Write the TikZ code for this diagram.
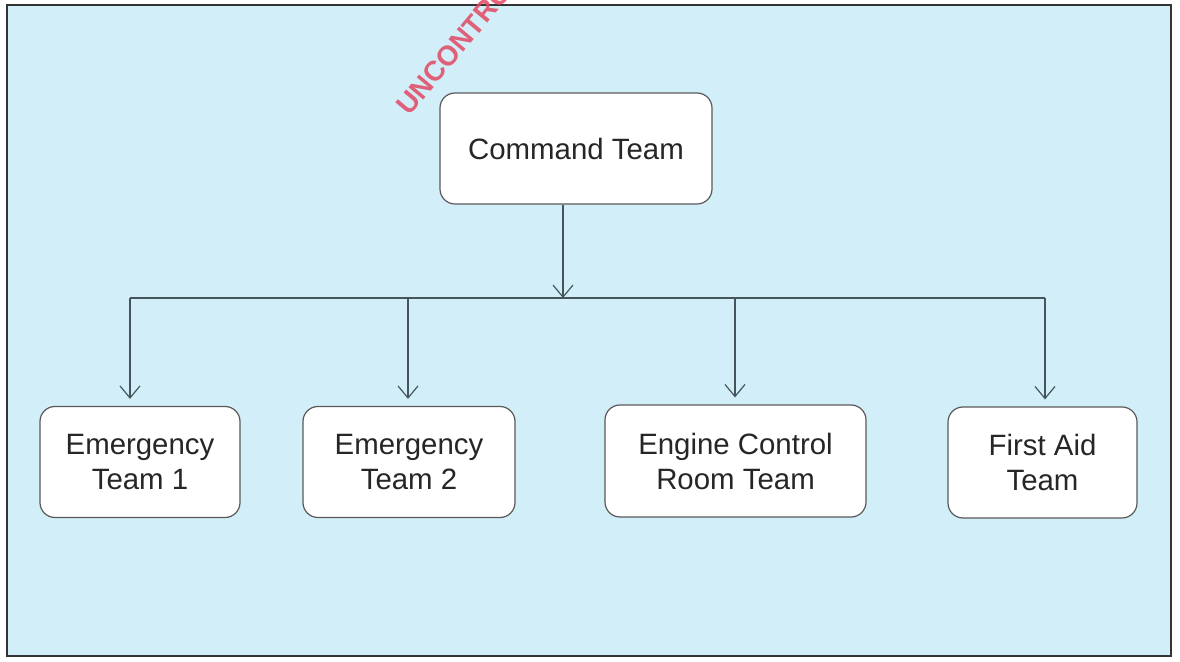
\documentclass[tikz,border=0pt]{standalone}
\usepackage{fontspec}
\setmainfont{Liberation Sans}
\usetikzlibrary{arrows.meta}
\definecolor{panelblue}{RGB}{210,238,248}
\definecolor{linegrey}{RGB}{70,85,92}
\definecolor{stampred}{RGB}{226,72,98}
\tikzset{
  team/.style={draw=black!65, fill=white, rounded corners=7.5pt, line width=0.6pt,
    align=center, text=black!85, font=\fontsize{14.7}{17.5}\selectfont,
    minimum height=55.5pt, inner sep=2pt},
  link/.style={draw=linegrey, line width=0.6pt},
  tip/.style={link, -{Straight Barb[length=6pt,width=10pt]}}
}
\begin{document}
\begin{tikzpicture}[x=0.5pt,y=-0.5pt]
  \useasboundingbox (0,0) rectangle (1180,662);
  \fill[white] (0,0) rectangle (1180,662);
  \draw[line width=1.2pt, draw=black!80, fill=panelblue] (7,5) rectangle (1171,656);
  \begin{scope}
    \clip (0,0) rectangle (1180,662);
    \node[rotate=50, anchor=base west, inner sep=0pt, text=stampred, opacity=0.85,
      font=\bfseries\fontsize{14}{14}\selectfont] (stamp) at (409,117) {UNCONTRO};
  \end{scope}

  \node[team, minimum width=136pt] (cmd) at (576,148.5) {Command Team};
  \node[team, minimum width=100pt] (e1) at (140,462) {Emergency\\Team 1};
  \node[team, minimum width=106pt] (e2) at (409,462) {Emergency\\Team 2};
  \node[team, minimum width=130.5pt, minimum height=56pt] (ecr) at (735.5,461) {Engine Control\\Room Team};
  \node[team, minimum width=94.5pt] (fa) at (1042.5,462.5) {First Aid\\Team};

  \coordinate (hub) at (563,298);
  \coordinate (d1) at (130,298);
  \coordinate (d2) at (408,298);
  \coordinate (d3) at (735,298);
  \coordinate (d4) at (1045,298);

  \draw[tip] (cmd.south -| hub) -- (hub);
  \draw[link] (d1) -- (d4);
  \foreach \i/\n in {1/e1,2/e2,3/ecr,4/fa}
    \draw[tip, shorten >=3.5pt] (d\i) -- (d\i |- \n.north);
\end{tikzpicture}
\end{document}
